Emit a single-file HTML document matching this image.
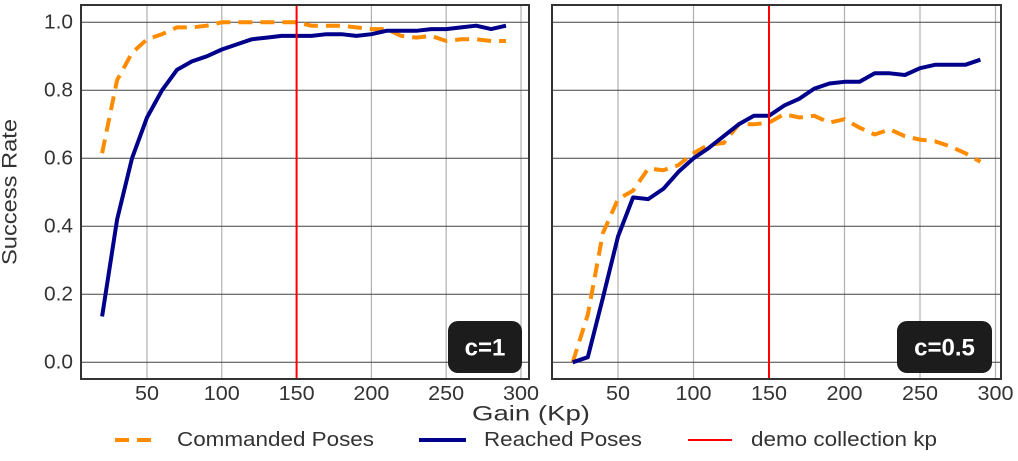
<!DOCTYPE html>
<html><head><meta charset="utf-8"><style>
html,body{margin:0;padding:0;background:#fff;}
svg{display:block;font-family:"Liberation Sans",sans-serif;}
</style></head><body>
<svg id="s" width="1018" height="461" viewBox="0 0 1018 461" xmlns="http://www.w3.org/2000/svg">
<rect width="1018" height="461" fill="#fff"/>
<g id="g"></g>
<text x="10" y="192" transform="rotate(-90 10 192)" text-anchor="middle" dominant-baseline="central" font-size="21" fill="#333" textLength="146" lengthAdjust="spacingAndGlyphs">Success Rate</text>
<text x="531" y="414" text-anchor="middle" dominant-baseline="central" font-size="21" fill="#333" textLength="118" lengthAdjust="spacingAndGlyphs">Gain (Kp)</text>
<line x1="115" y1="440" x2="155" y2="440" stroke="#ff8c00" stroke-width="4" stroke-dasharray="14,8"/>
<text x="177" y="440" dominant-baseline="central" font-size="20" fill="#333" textLength="197" lengthAdjust="spacingAndGlyphs">Commanded Poses</text>
<line x1="419" y1="440" x2="466" y2="440" stroke="#00008b" stroke-width="4"/>
<text x="484" y="440" dominant-baseline="central" font-size="20" fill="#333" textLength="158" lengthAdjust="spacingAndGlyphs">Reached Poses</text>
<line x1="688" y1="440" x2="732" y2="440" stroke="#ff0000" stroke-width="2"/>
<text x="751" y="440" dominant-baseline="central" font-size="20" fill="#333" textLength="186" lengthAdjust="spacingAndGlyphs">demo collection kp</text>
</svg>
<script>
var g=document.getElementById('g'),h='';
var X=[];for(var k=20;k<=290;k+=10)X.push(k);
var panels=[
{l:81,r:529,x0:72.2,sx:1.496,badge:[448,522,'c=1'],
 rea:[0.135,0.42,0.6,0.72,0.80,0.86,0.885,0.90,0.92,0.935,0.95,0.955,0.96,0.96,0.96,0.965,0.965,0.96,0.965,0.975,0.975,0.975,0.98,0.98,0.985,0.99,0.98,0.99],
 com:[0.615,0.83,0.91,0.95,0.965,0.985,0.985,0.99,1.0,1.0,1.0,1.0,1.0,1.0,0.99,0.99,0.99,0.985,0.98,0.98,0.96,0.955,0.96,0.945,0.95,0.95,0.945,0.945]},
{l:552,r:1001,x0:542.5,sx:1.51,badge:[897,992,'c=0.5'],
 rea:[0,0.015,0.19,0.37,0.485,0.48,0.51,0.56,0.60,0.63,0.665,0.70,0.725,0.725,0.755,0.775,0.805,0.82,0.825,0.825,0.85,0.85,0.845,0.865,0.875,0.875,0.875,0.89],
 com:[0,0.14,0.38,0.48,0.505,0.57,0.565,0.58,0.615,0.64,0.645,0.70,0.70,0.705,0.73,0.72,0.725,0.705,0.715,0.69,0.67,0.685,0.665,0.655,0.65,0.635,0.615,0.59]}];
function Y(v){return 362.3-v*340;}
panels.forEach(function(p,pi){
 var T=5,B=379;
 for(var t=50;t<=300;t+=50){var x=p.x0+t*p.sx;
  h+='<line x1="'+x+'" y1="'+T+'" x2="'+x+'" y2="'+B+'" stroke="#b0b0b0" stroke-width="1.2"/>';
  h+='<text x="'+x+'" y="394" text-anchor="middle" dominant-baseline="central" font-size="20" fill="#333" textLength="'+(t<100?24:36)+'" lengthAdjust="spacingAndGlyphs">'+t+'</text>';}
 for(var i=0;i<=5;i++){var v=i*0.2,y=Y(v);
  h+='<line x1="'+p.l+'" y1="'+y+'" x2="'+p.r+'" y2="'+y+'" stroke="#444" stroke-width="1"/>';
  if(pi==0)h+='<text x="73" y="'+y+'" text-anchor="end" dominant-baseline="central" font-size="20" fill="#333" textLength="29" lengthAdjust="spacingAndGlyphs">'+v.toFixed(1)+'</text>';}
 var rx=p.x0+150*p.sx;
 function pts(a){return a.map(function(v,j){return (p.x0+X[j]*p.sx).toFixed(1)+','+Y(v).toFixed(1);}).join(' ');}
 h+='<polyline points="'+pts(p.com)+'" fill="none" stroke="#ff8c00" stroke-width="4" stroke-dasharray="14,8"/>';
 h+='<polyline points="'+pts(p.rea)+'" fill="none" stroke="#00008b" stroke-width="4" stroke-linejoin="round"/>';
 h+='<line x1="'+rx+'" y1="'+T+'" x2="'+rx+'" y2="'+B+'" stroke="#ff0000" stroke-width="2"/>';
 var b=p.badge;
 h+='<rect x="'+b[0]+'" y="321" width="'+(b[1]-b[0])+'" height="52" rx="10" fill="#1c1c1c"/>';
 h+='<text x="'+((b[0]+b[1])/2)+'" y="348" text-anchor="middle" dominant-baseline="central" font-size="24" font-weight="bold" fill="#fff">'+b[2]+'</text>';
 h+='<rect x="'+p.l+'" y="'+T+'" width="'+(p.r-p.l)+'" height="'+(B-T)+'" fill="none" stroke="#333" stroke-width="2"/>';
});
g.innerHTML=h;
</script>
</body></html>
